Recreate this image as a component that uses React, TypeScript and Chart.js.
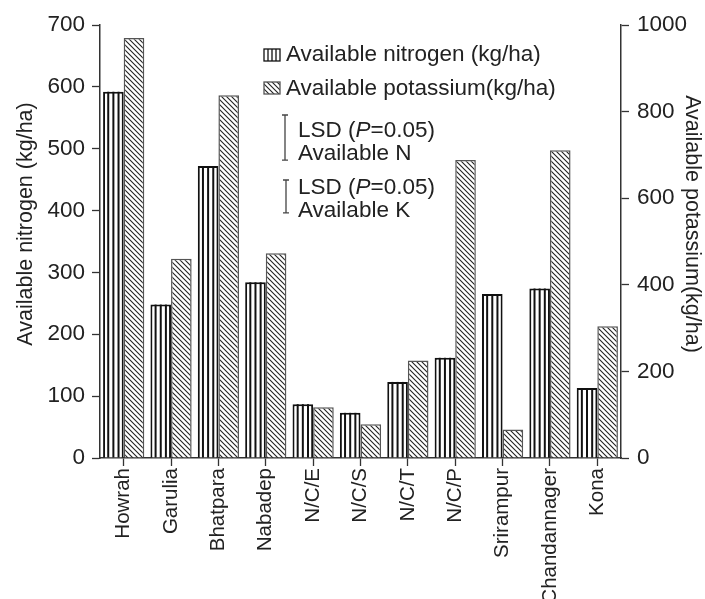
import React, { useEffect, useRef } from "react";
import { Chart, registerables } from "chart.js";

Chart.register(...registerables);

const categories = ["Howrah", "Garulia", "Bhatpara", "Nabadep", "N/C/E", "N/C/S", "N/C/T", "N/C/P", "Srirampur", "Chandannager", "Kona"];
const nitrogen = [592, 248, 472, 284, 87, 73, 123, 162, 265, 274, 113];
const potassium = [970, 460, 838, 473, 117, 78, 225, 688, 66, 711, 304];
const leftTicks = [0, 100, 200, 300, 400, 500, 600, 700];
const rightTicks = [0, 200, 400, 600, 800, 1000];
const lsdN = 73;
const lsdK = 76;

const FONT = '"Liberation Sans", Arial, Helvetica, sans-serif';
const INK = "#222";
const AXIS = "#333";

function makeHatch(): CanvasPattern | string {
  const c = document.createElement("canvas");
  c.width = 5;
  c.height = 5;
  const g = c.getContext("2d");
  if (!g) return "#fff";
  g.fillStyle = "#fff";
  g.fillRect(0, 0, 5, 5);
  g.strokeStyle = "#222";
  g.lineWidth = 1.1;
  g.beginPath();
  g.moveTo(-1, -1);
  g.lineTo(6, 6);
  g.moveTo(-1, 4);
  g.lineTo(1, 6);
  g.moveTo(4, -1);
  g.lineTo(6, 1);
  g.stroke();
  return g.createPattern(c, "repeat") || "#fff";
}

export default function App() {
  const ref = useRef<HTMLCanvasElement>(null);

  useEffect(() => {
    const canvas = ref.current;
    if (!canvas) return;
    const hatch = makeHatch();

    const stripes = {
      id: "stripes",
      afterDatasetsDraw(chart: any) {
        const ctx = chart.ctx;
        const meta = chart.getDatasetMeta(0);
        ctx.save();
        ctx.strokeStyle = "#111";
        ctx.lineWidth = 2;
        meta.data.forEach((bar: any) => {
          const w = bar.width;
          const left = bar.x - w / 2;
          for (let k = 1; k < 4; k++) {
            const x = left + (w * k) / 4;
            ctx.beginPath();
            ctx.moveTo(x, bar.y);
            ctx.lineTo(x, bar.base);
            ctx.stroke();
          }
        });
        ctx.restore();
      },
    };

    const annotations = {
      id: "annotations",
      afterDraw(chart: any) {
        const ctx = chart.ctx;
        ctx.save();
        ctx.fillStyle = INK;
        ctx.font = `21.5px ${FONT}`;
        ctx.textAlign = "center";
        ctx.textBaseline = "middle";
        // axis titles
        ctx.save();
        ctx.translate(26, 224);
        ctx.rotate(-Math.PI / 2);
        ctx.fillText("Available nitrogen (kg/ha)", 0, 0);
        ctx.restore();
        ctx.save();
        ctx.translate(692, 224);
        ctx.rotate(Math.PI / 2);
        ctx.fillText("Available potassium(kg/ha)", 0, 0);
        ctx.restore();

        // legend
        ctx.font = `22.5px ${FONT}`;
        ctx.textAlign = "left";
        const ix = 264, iw = 16, ih = 12;
        ctx.fillStyle = "#fff";
        ctx.fillRect(ix, 49, iw, ih);
        ctx.strokeStyle = "#111";
        ctx.lineWidth = 1.3;
        ctx.strokeRect(ix, 49, iw, ih);
        for (let k = 1; k < 4; k++) {
          const x = ix + (iw * k) / 4;
          ctx.beginPath();
          ctx.moveTo(x, 49);
          ctx.lineTo(x, 49 + ih);
          ctx.stroke();
        }
        ctx.fillStyle = hatch as any;
        ctx.fillRect(ix, 82, iw, ih);
        ctx.strokeStyle = "#555";
        ctx.strokeRect(ix, 82, iw, ih);
        ctx.fillStyle = INK;
        ctx.fillText("Available nitrogen (kg/ha)", 286, 55);
        ctx.fillText("Available potassium(kg/ha)", 286, 89);

        // LSD bars
        const lenN = chart.scales.y.getPixelForValue(0) - chart.scales.y.getPixelForValue(lsdN);
        const lenK = chart.scales.y1.getPixelForValue(0) - chart.scales.y1.getPixelForValue(lsdK);
        const drawBar = (x: number, top: number, len: number) => {
          ctx.strokeStyle = "#444";
          ctx.lineWidth = 1.3;
          ctx.beginPath();
          ctx.moveTo(x, top);
          ctx.lineTo(x, top + len);
          ctx.moveTo(x - 3, top);
          ctx.lineTo(x + 3, top);
          ctx.moveTo(x - 3, top + len);
          ctx.lineTo(x + 3, top + len);
          ctx.stroke();
        };
        drawBar(285, 115, lenN);
        drawBar(286, 180, lenK);

        const drawLSD = (x: number, y: number) => {
          let cx = x;
          ctx.font = `22.5px ${FONT}`;
          ctx.fillText("LSD (", cx, y);
          cx += ctx.measureText("LSD (").width;
          ctx.font = `italic 22.5px ${FONT}`;
          ctx.fillText("P", cx, y);
          cx += ctx.measureText("P").width;
          ctx.font = `22.5px ${FONT}`;
          ctx.fillText("=0.05)", cx, y);
        };
        ctx.fillStyle = INK;
        drawLSD(298, 131);
        ctx.fillText("Available N", 298, 154);
        drawLSD(298, 188);
        ctx.fillText("Available K", 298, 211);
        ctx.restore();
      },
    };

    const chart = new Chart(canvas, {
      type: "bar",
      data: {
        labels: categories,
        datasets: [
          {
            label: "Available nitrogen (kg/ha)",
            data: nitrogen,
            yAxisID: "y",
            backgroundColor: "#fff",
            borderColor: "#111",
            borderWidth: 2,
            categoryPercentage: 0.87,
            barPercentage: 1.0,
          },
          {
            label: "Available potassium(kg/ha)",
            data: potassium,
            yAxisID: "y1",
            backgroundColor: hatch as any,
            borderColor: "#555",
            borderWidth: 1.5,
            categoryPercentage: 0.87,
            barPercentage: 1.0,
          },
        ],
      },
      options: {
        responsive: false,
        animation: false,
        layout: { padding: { top: 25, left: 0, right: 0, bottom: 0 } },
        plugins: {
          legend: { display: false },
          tooltip: { enabled: false },
        },
        scales: {
          x: {
            offset: true,
            grid: {
              display: true,
              offset: false,
              drawOnChartArea: false,
              drawTicks: true,
              tickLength: 8,
              tickColor: AXIS,
              tickWidth: 1.3,
            },
            border: { display: true, color: AXIS, width: 1.5 },
            ticks: {
              autoSkip: false,
              maxRotation: 90,
              minRotation: 90,
              padding: 2,
              color: INK,
              font: { size: 20.5, family: FONT },
            },
            afterFit: (s: any) => {
              s.height = 141;
            },
          },
          y: {
            position: "left",
            min: 0,
            max: 700,
            afterBuildTicks: (s: any) => {
              s.ticks = leftTicks.map((v) => ({ value: v }));
            },
            grid: {
              display: true,
              drawOnChartArea: false,
              drawTicks: true,
              tickLength: 8,
              tickColor: AXIS,
              tickWidth: 1.3,
            },
            border: { display: true, color: AXIS, width: 1.5 },
            ticks: {
              padding: 7,
              color: INK,
              font: { size: 22.5, family: FONT },
              callback: (v: any) => String(v),
            },
            afterFit: (s: any) => {
              s.width = 100;
            },
          },
          y1: {
            position: "right",
            min: 0,
            max: 1000,
            afterBuildTicks: (s: any) => {
              s.ticks = rightTicks.map((v) => ({ value: v }));
            },
            grid: {
              display: true,
              drawOnChartArea: false,
              drawTicks: true,
              tickLength: 8,
              tickColor: AXIS,
              tickWidth: 1.3,
            },
            border: { display: true, color: AXIS, width: 1.5 },
            ticks: {
              padding: 8,
              color: INK,
              font: { size: 22.5, family: FONT },
              callback: (v: any) => String(v),
            },
            afterFit: (s: any) => {
              s.width = 84;
            },
          },
        },
      },
      plugins: [stripes, annotations],
    });

    return () => chart.destroy();
  }, []);

  return (
    <div style={{ position: "absolute", left: 0, top: 0, width: 705, height: 599, background: "#fff" }}>
      <canvas ref={ref} width={705} height={599} style={{ display: "block" }} />
    </div>
  );
}
